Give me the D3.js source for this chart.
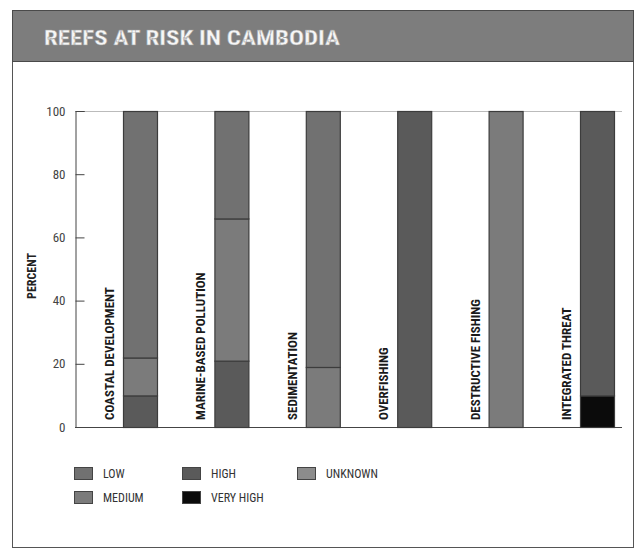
<!DOCTYPE html>
<html>
<head>
<meta charset="utf-8">
<script src="https://cdn.jsdelivr.net/npm/d3@7"></script>
<style>
  body { margin: 0; background: #ffffff; }
  svg { display: block; }
</style>
</head>
<body>
<svg id="chart" width="637" height="555"></svg>
<script>
const categories = ["COASTAL DEVELOPMENT", "MARINE-BASED POLLUTION", "SEDIMENTATION", "OVERFISHING", "DESTRUCTIVE FISHING", "INTEGRATED THREAT"];
const veryHigh = [0, 0, 0, 0, 0, 10];
const high     = [10, 21, 0, 100, 0, 90];
const medium   = [12, 45, 19, 0, 100, 0];
const low      = [78, 34, 81, 0, 0, 0];
const unknown  = [0, 0, 0, 0, 0, 0];
const yTicks = [0, 20, 40, 60, 80, 100];
const seriesKeys = ["veryHigh", "high", "medium", "low", "unknown"];
const legendItems = [
  { key: "low", label: "LOW" },
  { key: "medium", label: "MEDIUM" },
  { key: "high", label: "HIGH" },
  { key: "veryHigh", label: "VERY HIGH" },
  { key: "unknown", label: "UNKNOWN" }
];

const colors = { low: "#717171", medium: "#7b7b7b", high: "#5a5a5a", veryHigh: "#0b0b0b", unknown: "#8c8c8c" };
const condensed = "'Liberation Sans Narrow', 'Arial Narrow', 'Roboto Condensed', sans-serif";

const rows = categories.map((c, i) => ({
  cat: c, veryHigh: veryHigh[i], high: high[i], medium: medium[i], low: low[i], unknown: unknown[i]
}));
const stacked = d3.stack().keys(seriesKeys)(rows);

const svg = d3.select("#chart");

// outer frame
svg.append("rect").attr("x", 12.5).attr("y", 10.5).attr("width", 621).attr("height", 537)
  .attr("fill", "#fff").attr("stroke", "#555").attr("stroke-width", 1);
// title bar
svg.append("rect").attr("x", 12.5).attr("y", 10.5).attr("width", 621).attr("height", 51)
  .attr("fill", "#7d7d7d").attr("stroke", "#4a4a4a").attr("stroke-width", 1);
svg.append("text").attr("x", 44).attr("y", 45)
  .attr("font-family", condensed).attr("font-weight", "bold").attr("font-size", 20)
  .attr("fill", "#f6f6f6").attr("stroke", "#9a9a9a").attr("stroke-width", 0.4)
  .attr("textLength", 296).attr("lengthAdjust", "spacingAndGlyphs")
  .text("REEFS AT RISK IN CAMBODIA");

const y = d3.scaleLinear().domain([0, 100]).range([427, 111]);
const x = d3.scaleBand().domain(categories).range([77, 77 + 6 * 91.4]).paddingInner(0);
const barOffset = 46, barW = 34;

// top frame line of plot
svg.append("line").attr("x1", 75).attr("x2", 622).attr("y1", y(100) + 0.5).attr("y2", y(100) + 0.5)
  .attr("stroke", "#bbb").attr("stroke-width", 1);

// y axis
const yAxis = d3.axisRight(y).tickValues(yTicks).tickSize(9).tickFormat(d3.format("d"));
const gy = svg.append("g").attr("transform", "translate(75.5,0)").call(yAxis);
gy.select(".domain").attr("stroke", "#444");
gy.selectAll(".tick line").attr("stroke", "#444");
gy.selectAll(".tick text").attr("x", -10).attr("text-anchor", "end")
  .attr("font-family", condensed).attr("font-size", 13).attr("fill", "#444");

// x baseline
svg.append("line").attr("x1", 75).attr("x2", 622).attr("y1", y(0) + 0.5).attr("y2", y(0) + 0.5)
  .attr("stroke", "#444").attr("stroke-width", 1);

// y label
svg.append("text").attr("transform", `translate(36,${276}) rotate(-90)`)
  .attr("text-anchor", "middle").attr("font-family", condensed).attr("font-weight", "bold")
  .attr("font-size", 12).attr("fill", "#222").text("PERCENT");

// bars
stacked.forEach(s => {
  svg.append("g").selectAll("rect").data(s.filter(d => d[1] - d[0] > 0)).join("rect")
    .attr("x", d => x(d.data.cat) + barOffset + 0.5)
    .attr("y", d => y(d[1]) + 0.5)
    .attr("width", barW)
    .attr("height", d => y(d[0]) - y(d[1]))
    .attr("fill", colors[s.key])
    .attr("stroke", "#3c3c3c").attr("stroke-width", 1.2);
});

// category labels
svg.append("g").selectAll("text").data(categories).join("text")
  .attr("transform", d => `translate(${x(d) + 37},420) rotate(-90)`)
  .attr("font-family", condensed).attr("font-weight", "bold").attr("font-size", 13)
  .attr("fill", "#1a1a1a").text(d => d);

// legend
const legendPos = {
  low: [74, 467], medium: [74, 491], high: [182, 467], veryHigh: [182, 491], unknown: [297, 467]
};
const lg = svg.append("g");
legendItems.forEach(it => {
  const [lx, ly] = legendPos[it.key];
  lg.append("rect").attr("x", lx + 0.5).attr("y", ly + 0.5).attr("width", 18).attr("height", 12)
    .attr("fill", colors[it.key]).attr("stroke", "#444").attr("stroke-width", 1);
  lg.append("text").attr("x", lx + 29).attr("y", ly + 11)
    .attr("font-family", condensed).attr("font-size", 12).attr("fill", "#333").text(it.label);
});
</script>
</body>
</html>
